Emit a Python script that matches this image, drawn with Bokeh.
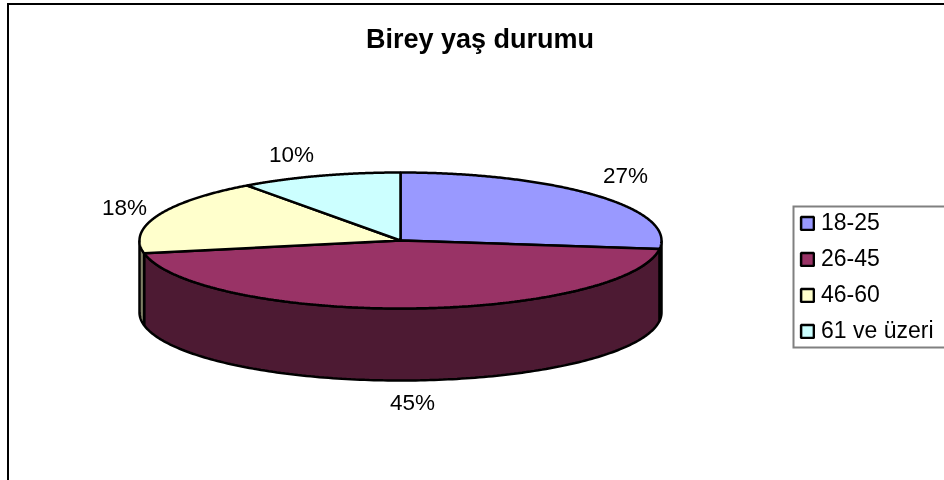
import numpy as np
from bokeh.embed import file_html
from bokeh.resources import INLINE
from bokeh.plotting import figure
from bokeh.models import Legend, LegendItem, ColumnDataSource, Range1d
from bokeh.core.properties import value

title_text = "Birey yaş durumu"
categories = ["18-25", "26-45", "46-60", "61 ve üzeri"]
percents = [27, 45, 18, 10]
top_colors = ["#9999FF", "#993366", "#FFFFCC", "#CCFFFF"]
side_colors = ["#4D4D80", "#4D1A33", "#808066", "#668080"]

CX, CY, RX, RY, DEPTH = 400.0, 240.0, 261.0, 68.0, 72.0
LABEL_XY = {0: (625, 175), 1: (412, 402), 2: (124, 207), 3: (291, 154)}
FONT = "Liberation Sans"
LW = 2.5

p = figure(width=944, height=480, x_range=Range1d(0, 944), y_range=Range1d(480, 0),
           output_backend="svg", toolbar_location=None, min_border=0,
           x_axis_location=None, y_axis_location=None,
           background_fill_color="white", border_fill_color="white", outline_line_color=None)
p.grid.visible = False
p.styles = {"position": "fixed", "left": "0px", "top": "0px"}

# chart frame: left and top edges only are in the window
p.line([7.5, 7.5, 1000], [1000, 3.5, 3.5], line_color="black", line_width=2, line_join="miter")
# legend frame: its right edge is outside the window
p.line([1000, 793, 793, 1000], [206, 206, 347, 347], line_color="#808080", line_width=2, line_join="miter")


def ell(t, dy=0.0):
    t = np.radians(t)
    return CX + RX * np.sin(t), CY - RY * np.cos(t) + dy


cum = np.concatenate([[0], np.cumsum(percents)]) * 3.6
# sides
for i in range(len(percents)):
    a, b = max(cum[i], 90), min(cum[i + 1], 270)
    if b <= a:
        continue
    t = np.linspace(a, b, 160)
    x0, y0 = ell(t)
    x1, y1 = ell(t[::-1], DEPTH)
    p.patch(np.r_[x0, x1], np.r_[y0, y1], fill_color=side_colors[i], line_color="black", line_width=LW)

items = []
for i, c in enumerate(categories):
    t = np.linspace(cum[i], cum[i + 1], 240)
    x, y = ell(t)
    r = p.patch(np.r_[CX, x], np.r_[CY, y], fill_color=top_colors[i], line_color="black", line_width=LW)
    items.append(LegendItem(label=c, renderers=[r]))

src = ColumnDataSource(dict(
    x=[LABEL_XY[i][0] for i in range(4)], y=[LABEL_XY[i][1] for i in range(4)],
    t=[f"{v}%" for v in percents]))
p.text("x", "y", "t", source=src, text_font=value(FONT), text_font_size="22.5px", text_color="black",
       text_align="center", text_baseline="middle")
p.text([479.5], [38], [title_text], text_font=value(FONT), text_font_size="27px", text_font_style="bold",
       text_color="black", text_align="center", text_baseline="middle")

legend = Legend(items=items, location=(799, 480 - 344), orientation="vertical",
                label_text_font=FONT, label_text_font_size="23px", label_text_color="black",
                label_text_baseline="middle",
                glyph_width=16, glyph_height=16, padding=5, spacing=9, margin=0, label_standoff=6,
                label_height=25, label_width=120,
                border_line_color=None, background_fill_alpha=0)
p.add_layout(legend)

open("out.html", "w").write(file_html(p, INLINE))
